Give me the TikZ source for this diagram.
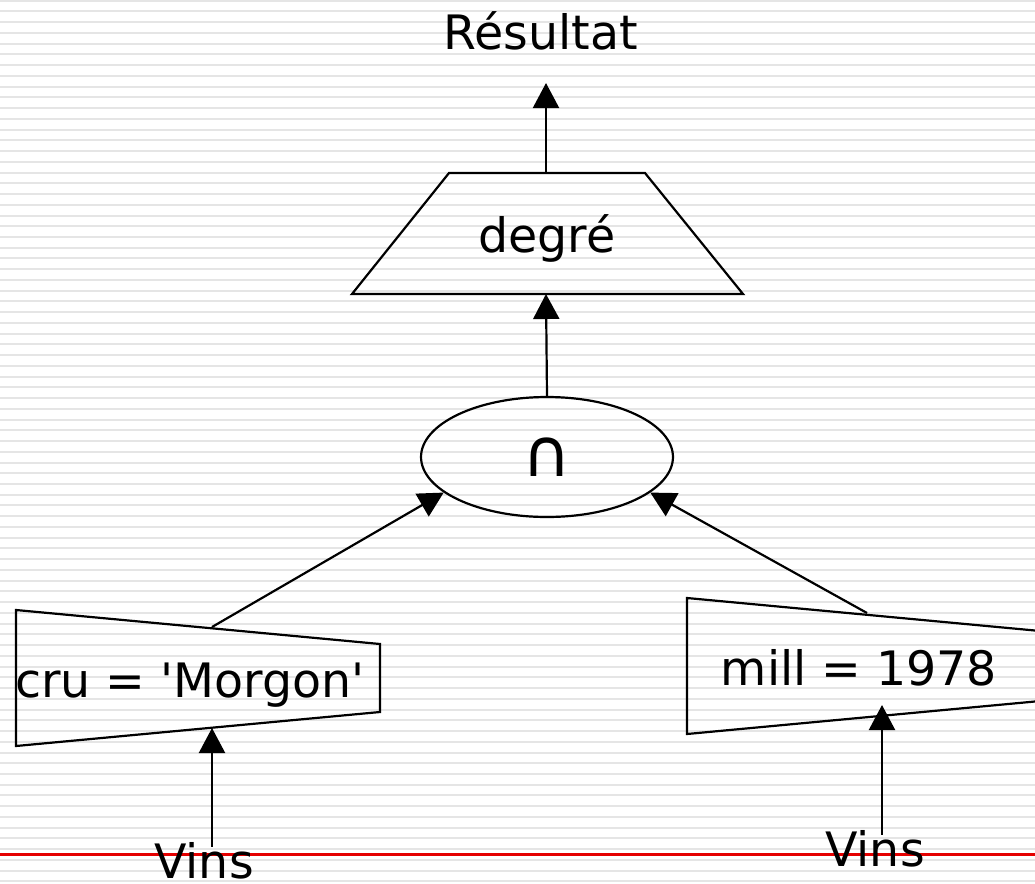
\documentclass[tikz,border=0pt]{standalone}
\usepackage{fontspec}
\setmainfont{DejaVu Sans}
\usetikzlibrary{arrows.meta,positioning,shapes.geometric}

\begin{document}
\begin{tikzpicture}[x=0.02cm, y=-0.02cm,
txt/.style={font=\fontsize{27}{32}\selectfont, inner sep=0pt, anchor=base},
edge/.style={line width=1.25pt},
arrow/.style={edge, -{Triangle[length=0.5cm, width=0.52cm]}},
stripe/.style={gray!20, line width=0.04cm}
]
\useasboundingbox (0,0) rectangle (1035,883);
\clip (0,0) rectangle (1035,883);
% slide background
\fill[white] (0,0) rectangle (1035,883);
\foreach \k in {0,...,82}
  \draw[stripe] (0,0.7+10.74*\k) -- (1035,0.7+10.74*\k);
\draw[red!90!black, line width=0.055cm] (0,854.7) -- (1035,854.7);

% operators
\draw[edge] (352,294) -- (449,173) -- (645,173) -- (743,294) -- cycle;
\draw[edge] (16,610) -- (380,644) -- (380,712) -- (16,746) -- cycle;
\draw[edge] (687,598) -- (1051,632) -- (1051,700) -- (687,734) -- cycle;
\coordinate (ptop) at (546,173);
\coordinate (pbot) at (546,294);
\coordinate (ltop) at (212,627);
\coordinate (lbot) at (212,728);
\coordinate (rtop) at (867,613);
\coordinate (rbot) at (882,705);

\node[txt] (res) at (541,49) {Résultat};
\node[txt] (proj) at (547,252) {degré};
\node[draw, edge, ellipse, minimum width=5.04cm, minimum height=2.4cm, inner sep=0pt,
  font=\fontsize{38}{44}\selectfont] (inter) at (547,457) {∩};
\node[txt] (selcru) at (190,697) {cru = \textquotesingle Morgon\textquotesingle};
\node[txt] (selmill) at (859,685) {mill = 1978};
\node[txt] (vinsl) at (204,878) {Vins};
\node[txt] (vinsr) at (875,866) {Vins};

% flows
\draw[arrow, shorten >=0.66cm] (ptop) -- (ptop |- res.south);
\draw[arrow] (inter.north) -- (pbot);
\draw[arrow] (ltop) -- (inter.199.5);
\draw[arrow] (rtop) -- (inter.341.7);
\draw[arrow, shorten <=-0.1cm] (vinsl.north -| lbot) -- (lbot);
\draw[arrow, shorten <=-0.1cm] (vinsr.north -| rbot) -- (rbot);
\end{tikzpicture}
\end{document}
